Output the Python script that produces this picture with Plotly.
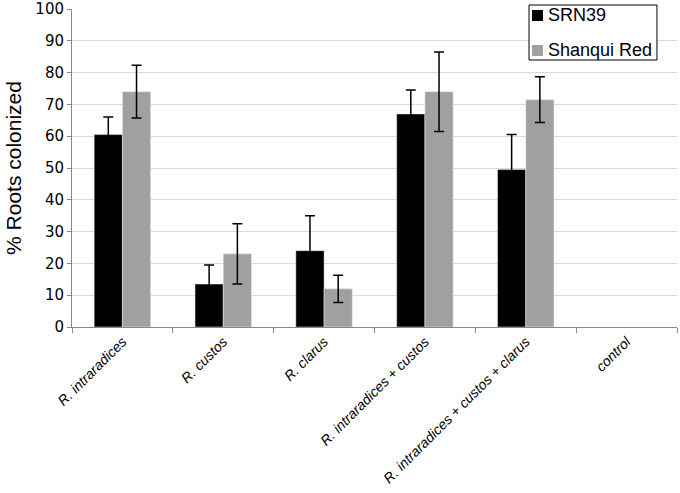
import plotly.graph_objects as go

categories = ["R. intraradices", "R. custos", "R. clarus", "R. intraradices + custos",
              "R. intraradices + custos + clarus", "control"]
series_names = ["SRN39", "Shanqui Red"]
series_colors = ["black", "#a0a0a0"]
srn39 = [60.5, 13.5, 24, 67, 49.5, None]
srn39_err = [5.5, 6, 11, 7.5, 11, None]
shanqui = [74, 23, 12, 74, 71.5, None]
shanqui_err = [8.3, 9.5, 4.3, 12.5, 7.2, None]

fig = go.Figure()
for name, color, vals, errs in zip(series_names, series_colors, [srn39, shanqui], [srn39_err, shanqui_err]):
    fig.add_bar(x=categories, y=vals, name=name, marker_color=color, showlegend=False,
                error_y=dict(type="data", array=errs, color="black", thickness=1.5, width=5))

# Custom legend box (paper coordinates)
fig.add_shape(type="rect", xref="paper", yref="paper", x0=0.7554, x1=0.9669, y0=0.8396, y1=1.0126,
              line=dict(color="black", width=1), fillcolor="white", layer="above")
sq_y = [(0.9623, 0.9969), (0.8522, 0.8868)]
txt_y = [0.9796, 0.8711]
for i, (name, color) in enumerate(zip(series_names, series_colors)):
    fig.add_shape(type="rect", xref="paper", yref="paper", x0=0.7603, x1=0.7785,
                  y0=sq_y[i][0], y1=sq_y[i][1], line=dict(width=0), fillcolor=color, layer="above")
    fig.add_annotation(xref="paper", yref="paper", x=0.7835, y=txt_y[i], text=name, showarrow=False,
                       xanchor="left", yanchor="middle",
                       font=dict(family="Liberation Sans, Arial", size=18, color="black"))

fig.update_layout(
    width=680, height=493,
    margin=dict(l=72, r=3, t=9, b=166, autoexpand=False),
    plot_bgcolor="white", paper_bgcolor="white",
    barmode="group", bargap=0.44, bargroupgap=0,
    font=dict(family="Liberation Sans, Arial", color="black"),
)
fig.update_xaxes(
    tickangle=-45, tickfont=dict(family="Liberation Sans, Arial", size=14, style="italic", color="black"),
    showline=True, linecolor="#888888", linewidth=1, automargin=False,
    ticks="outside", tickson="boundaries", ticklen=5, tickcolor="#888888",
    ticklabeloverflow="allow",
)
fig.update_yaxes(
    range=[0, 100], dtick=10, automargin=False,
    tickfont=dict(family="DejaVu Sans", size=15, color="black"),
    showgrid=True, gridcolor="#d9d9d9", gridwidth=1,
    showline=True, linecolor="#888888", linewidth=1,
    ticks="outside", ticklen=4, tickcolor="#888888", ticklabeloverflow="allow",
    title=dict(text="% Roots colonized", font=dict(family="Liberation Sans, Arial", size=21, color="black"), standoff=8),
    zeroline=False,
)
fig.write_html("out.html", config={"displayModeBar": False},
               post_script="document.body.style.margin='0';")
